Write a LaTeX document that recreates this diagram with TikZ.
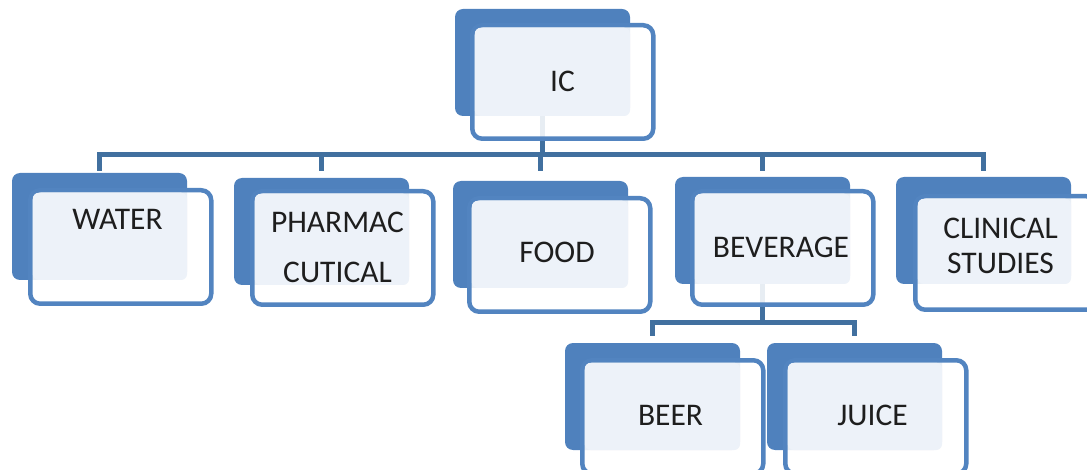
\documentclass[tikz,border=0pt]{standalone}
\usepackage{fontspec}
\setmainfont{Carlito}
\usetikzlibrary{calc,backgrounds}
\definecolor{backblue}{HTML}{4F81BD}
\definecolor{frontblue}{HTML}{5284C0}
\definecolor{lightfill}{HTML}{EDF2F9}
\definecolor{connC}{HTML}{41709F}
\definecolor{textC}{HTML}{1E1E1E}
\tikzset{
  backbox/.style={fill=backblue, rounded corners=8pt, minimum width=175pt, minimum height=107pt, inner sep=0pt, outer sep=0pt},
  frontbox/.style={draw=frontblue, line width=4.5pt, fill=white, fill opacity=0.88, rounded corners=10pt, minimum width=181pt, minimum height=113.5pt, inner sep=0pt, outer sep=0pt},
  lightbox/.style={fill=lightfill, rounded corners=6pt},
  boxlabel/.style={font=\fontsize{31.5}{35}\selectfont, text=textC, align=center, inner sep=0pt},
  conn/.style={draw=connC, line width=5pt, line join=miter}
}
% name, back x, back y, front dx, front dy
\newcommand\orgbox[5]{%
  \node[backbox, anchor=north west] (#1b) at (#2,#3) {};
  \node[frontbox, anchor=north west] (#1) at (#2+#4+2.25,#3+#5+2.25) {};
  \fill[lightbox] ($(#1.north west)+(2.5,2.5)$) rectangle (#1b.south east);
}
\begin{document}
\begin{tikzpicture}[x=1pt,y=-1pt]
\useasboundingbox (0,0) rectangle (1087,470);
\clip (0,0) rectangle (1087,470);
\orgbox{ic}{455}{9}{15}{14}
\orgbox{water}{12}{173}{16}{15}
\orgbox{pharm}{234}{178}{16}{11}
\orgbox{food}{453}{181}{14}{15}
\orgbox{bev}{675}{177}{15}{12}
\orgbox{clin}{896}{177}{17}{17}
\orgbox{beer}{565}{343}{15}{15}
\orgbox{juice}{767}{343}{16}{15}
\node[boxlabel] (ict) at (562.5,81.5) {IC};
\node[boxlabel] (watert) at (117.5,219.5) {WATER};
\node[boxlabel] (pharmt) at (337.5,247) {PHARMAC\\[15pt]CUTICAL};
\node[boxlabel] (foodt) at (557,252.5) {FOOD};
\node[boxlabel] (bevt) at (781,247) {BEVERAGE};
\node[boxlabel] (clint) at (1000.5,246) {CLINICAL\\STUDIES};
\node[boxlabel] (beert) at (670.5,415) {BEER};
\node[boxlabel] (juicet) at (872.5,415) {JUICE};
\coordinate (bus) at (0,155);
\coordinate (drop) at (0,171);
\coordinate (bus2) at (0,323);
\coordinate (drop2) at (0,336);
\begin{pgfonlayer}{background}
  \draw[conn] (icb.south) -- (icb.south |- bus);
  \draw[conn] (waterb.north |- drop) -- (waterb.north |- bus) -- (clinb.north |- bus) -- (clinb.north |- drop);
  \draw[conn] (pharmb.north |- bus) -- (pharmb.north |- drop);
  \draw[conn] (foodb.north |- bus) -- (foodb.north |- drop);
  \draw[conn] (bevb.north |- bus) -- (bevb.north |- drop);
  \draw[conn] (bevb.south) -- (bevb.south |- bus2);
  \draw[conn] (beerb.north |- drop2) -- (beerb.north |- bus2) -- (juiceb.north |- bus2) -- (juiceb.north |- drop2);
\end{pgfonlayer}
\end{tikzpicture}
\end{document}
